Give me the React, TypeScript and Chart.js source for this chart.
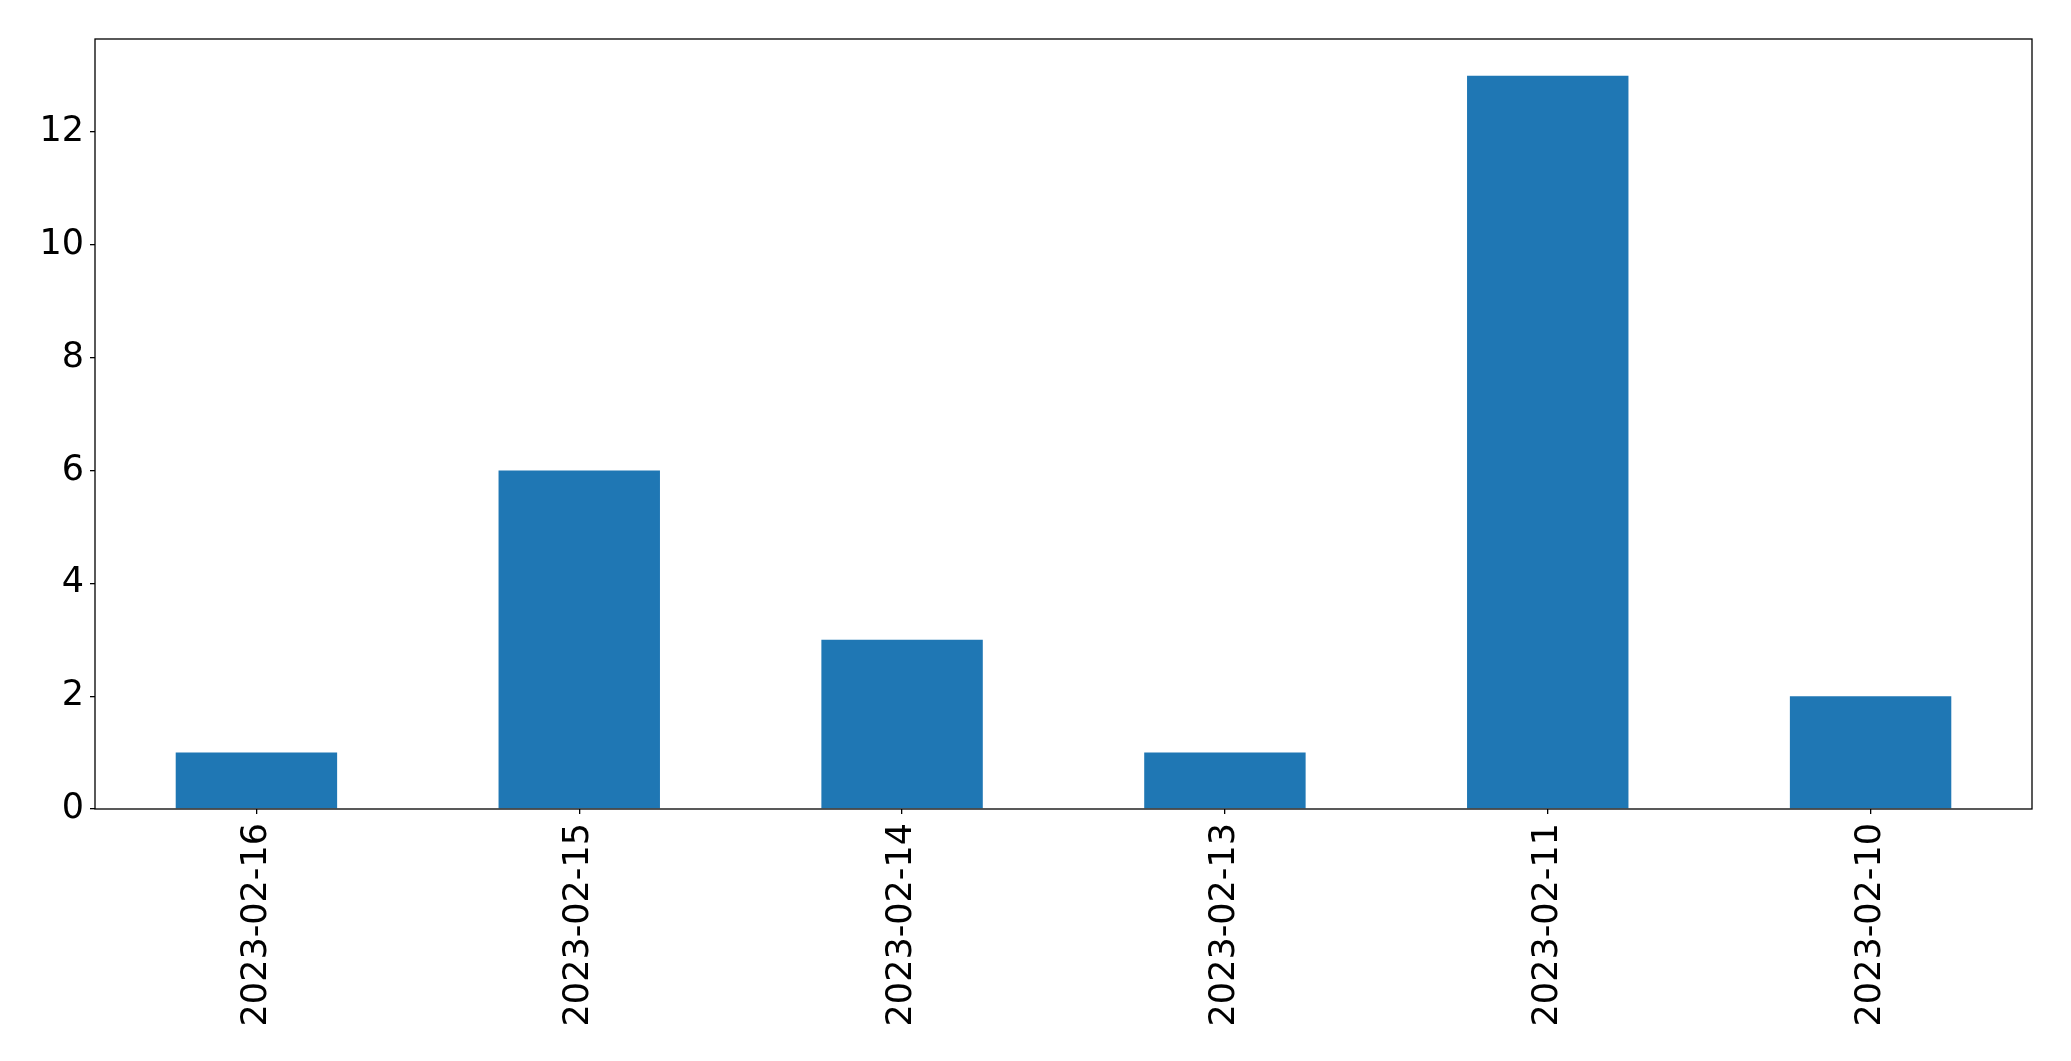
import React, { useEffect, useRef } from "react";
import { Chart, registerables } from "chart.js";

Chart.register(...registerables);

const categories = ["2023-02-16", "2023-02-15", "2023-02-14", "2023-02-13", "2023-02-11", "2023-02-10"];
const values = [1, 6, 3, 1, 13, 2];
const yMax = 13.65;
const yStep = 2;

const frame = {
  id: "frame",
  afterDatasetsDraw(chart: any) {
    const { ctx, chartArea } = chart;
    ctx.save();
    ctx.strokeStyle = "#000";
    ctx.lineWidth = 1.3;
    ctx.strokeRect(chartArea.left, chartArea.top, chartArea.right - chartArea.left, chartArea.bottom - chartArea.top);
    ctx.restore();
  },
};

export default function App() {
  const ref = useRef<HTMLCanvasElement>(null);
  useEffect(() => {
    document.body.style.margin = "0";
    const font = { family: "DejaVu Sans", size: 35 };
    const chart = new Chart(ref.current!, {
      type: "bar",
      data: {
        labels: categories,
        datasets: [
          {
            data: values,
            backgroundColor: "#1f77b4",
            categoryPercentage: 1,
            barPercentage: 0.5,
          },
        ],
      },
      options: {
        responsive: false,
        animation: false,
        layout: { padding: { left: 0, top: 39, right: 39, bottom: 0 } },
        plugins: { legend: { display: false }, tooltip: { enabled: false } },
        scales: {
          x: {
            grid: { display: true, offset: false, drawOnChartArea: false, drawTicks: true, tickLength: 5, color: "#000", lineWidth: 1.3 },
            border: { display: false },
            ticks: { font, color: "#000", minRotation: 90, maxRotation: 90, padding: 9, autoSkip: false },
            afterFit(scale: any) {
              scale.height = 252;
            },
          },
          y: {
            min: 0,
            max: yMax,
            grid: { display: true, drawOnChartArea: false, drawTicks: true, tickLength: 5, color: "#000", lineWidth: 1.3 },
            border: { display: false },
            ticks: { font, color: "#000", stepSize: yStep, includeBounds: false, padding: 6 },
            afterFit(scale: any) {
              scale.width = 95;
            },
          },
        },
      },
      plugins: [frame],
    });
    return () => chart.destroy();
  }, []);
  return (
    <div style={{ position: "fixed", left: 0, top: 0, width: 2071, height: 1061, background: "#fff" }}>
      <canvas ref={ref} width={2071} height={1061} />
    </div>
  );
}
